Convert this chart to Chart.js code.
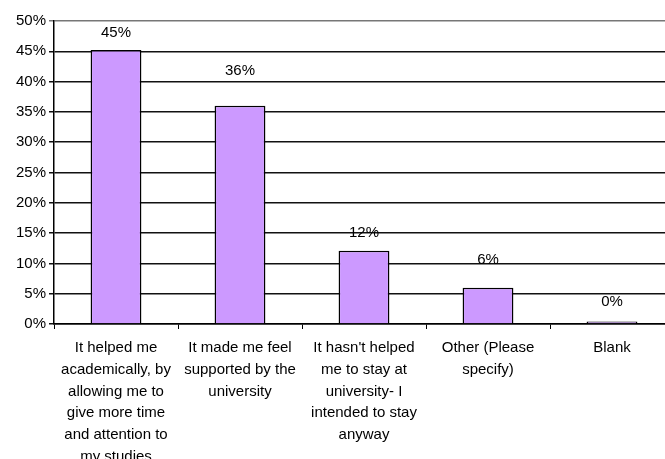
<!DOCTYPE html>
<html>
<head>
<meta charset="utf-8">
<script src="https://cdn.jsdelivr.net/npm/chart.js@4/dist/chart.umd.min.js"></script>
<style>
  html, body { margin: 0; padding: 0; background: #fff; overflow: hidden; }
  #wrap { position: relative; width: 676px; height: 459px; }
</style>
</head>
<body>
<div id="wrap"><canvas id="chart"></canvas></div>
<script>
const categories = [
    ['It helped me', 'academically, by', 'allowing me to', 'give more time', 'and attention to', 'my studies'],
    ['It made me feel', 'supported by the', 'university'],
    ["It hasn't helped", 'me to stay at', 'university- I', 'intended to stay', 'anyway'],
    ['Other (Please', 'specify)'],
    ['Blank']
];
const shares = [45.2, 36.0, 12.1, 6.0, 0.4];
const shareLabels = ['45%', '36%', '12%', '6%', '0%'];
const yTicks = [0, 5, 10, 15, 20, 25, 30, 35, 40, 45, 50];

// how far above each bar the value label sits (px)
const labelLift = [17, 35, 18, 28, 20];

const font = 'Liberation Sans, Arial, sans-serif';

const valueLabels = {
    id: 'valueLabels',
    afterDatasetsDraw(chart) {
        const ctx = chart.ctx;
        const meta = chart.getDatasetMeta(0);
        ctx.save();
        ctx.font = '15px ' + font;
        ctx.fillStyle = '#000';
        ctx.textAlign = 'center';
        ctx.textBaseline = 'middle';
        meta.data.forEach((bar, i) => {
            ctx.fillText(shareLabels[i], bar.x, bar.y - labelLift[i]);
        });
        ctx.restore();
    }
};

new Chart(document.getElementById('chart').getContext('2d'), {
    type: 'bar',
    data: {
        labels: categories,
        datasets: [{
            data: shares,
            backgroundColor: '#CC99FF',
            borderColor: '#000',
            borderWidth: 1.5,
            barPercentage: 0.41,
            categoryPercentage: 1
        }]
    },
    options: {
        responsive: true,
        maintainAspectRatio: false,
        animation: false,
        layout: { padding: { top: 21, right: 2, left: 0, bottom: 0 } },
        plugins: { legend: { display: false }, tooltip: { enabled: false } },
        scales: {
            x: {
                grid: { drawOnChartArea: false, tickLength: 5, color: '#000', offset: true },
                border: { color: '#000', width: 1.5 },
                ticks: {
                    color: '#000',
                    maxRotation: 0,
                    autoSkip: false,
                    padding: 8,
                    font: { family: font, size: 15, lineHeight: 1.45 }
                },
                afterFit: (scale) => { scale.height = 135; }
            },
            y: {
                min: 0,
                max: 50,
                afterBuildTicks: (scale) => { scale.ticks = yTicks.map(v => ({ value: v })); },
                grid: {
                    tickLength: 5,
                    color: (c) => c.tick && c.tick.value === 50 ? '#777' : '#111',
                    lineWidth: 1.5
                },
                border: { color: '#000', width: 1.5 },
                ticks: {
                    color: '#000',
                    padding: 3,
                    font: { family: font, size: 15 },
                    callback: (v) => v + '%'
                },
                afterFit: (scale) => { scale.width = 54; }
            }
        }
    },
    plugins: [valueLabels]
});
</script>
</body>
</html>
